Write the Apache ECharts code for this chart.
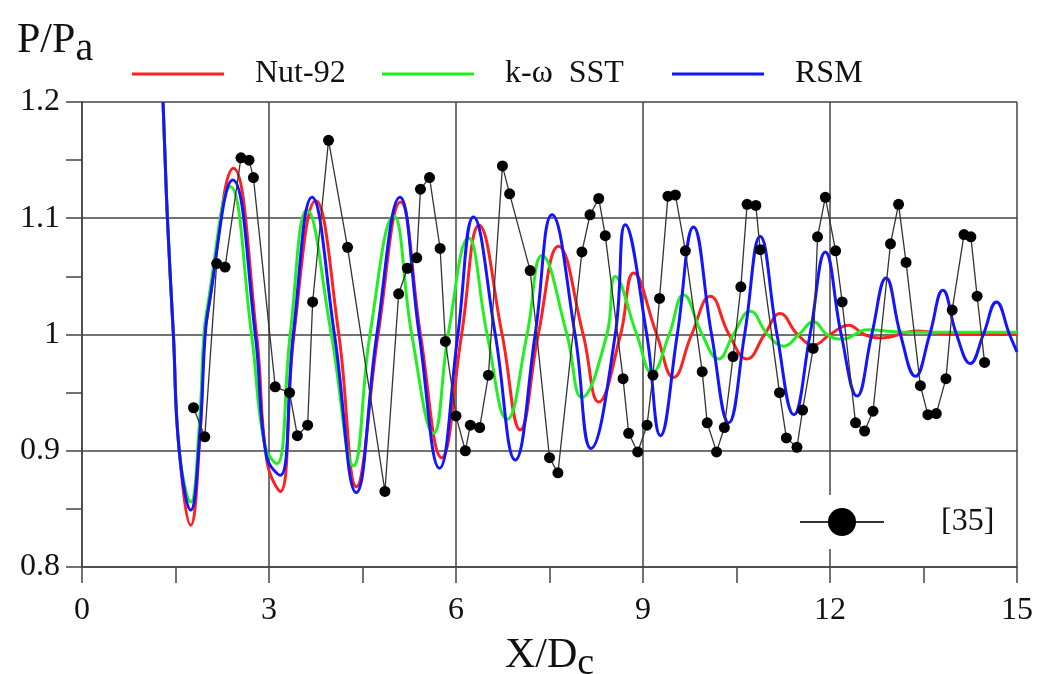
<!DOCTYPE html>
<html><head><meta charset="utf-8">
<script src="https://cdn.jsdelivr.net/npm/echarts@6/dist/echarts.min.js"></script>
<style>html,body{margin:0;padding:0;background:#fff}#c{width:1040px;height:674px}</style>
</head><body><div id="c"></div>
<script>
// ---- data ----
const seriesNames = ['Nut-92', 'k-\u03c9  SST', 'RSM', '[35]'];

const nut92 = [
  [1.30,1.200],[1.37,1.100],[1.466,1.000],[1.56,0.900],[1.745,0.836],[1.89,0.910],[1.96,0.995],[2.02,1.020],
  [2.43,1.143],[2.80,1.000],[2.97,0.890],[3.18,0.865],[3.40,1.000],[3.75,1.115],[4.12,1.000],[4.40,0.869],
  [4.75,1.000],[5.11,1.114],[5.43,1.000],[5.77,0.894],[6.09,1.000],[6.37,1.094],[6.74,1.000],[7.03,0.918],
  [7.32,1.000],[7.645,1.076],[8.04,1.000],[8.29,0.942],[8.64,1.000],[8.85,1.053],[9.22,1.000],[9.49,0.963],
  [9.78,1.000],[10.08,1.033],[10.38,1.000],[10.67,0.979],[10.95,1.000],[11.20,1.018],[11.48,1.000],[11.74,0.991],
  [12.00,1.000],[12.30,1.008],[12.55,1.000],[12.81,0.997],[13.40,1.003],[14.00,1.000],[15.00,1.000]
];
const sst = [
  [1.30,1.200],[1.37,1.100],[1.466,1.000],[1.56,0.900],[1.745,0.856],[1.88,0.920],[1.95,0.995],[2.00,1.020],
  [2.38,1.127],[2.72,1.000],[2.93,0.905],[3.125,0.889],[3.34,1.000],[3.61,1.107],[4.00,1.000],[4.355,0.887],
  [4.62,1.000],[5.00,1.102],[5.29,1.000],[5.64,0.915],[5.875,1.000],[6.20,1.083],[6.50,1.000],[6.82,0.927],
  [7.14,1.000],[7.38,1.068],[7.78,1.000],[8.02,0.946],[8.42,1.000],[8.555,1.050],[8.90,1.000],[9.145,0.967],
  [9.42,1.000],[9.65,1.034],[9.95,1.000],[10.21,0.979],[10.45,1.000],[10.72,1.020],[11.00,1.000],[11.26,0.990],
  [11.50,1.000],[11.74,1.011],[11.95,1.000],[12.20,0.996],[12.60,1.004],[13.20,1.002],[15.00,1.002]
];
const rsm = [
  [1.30,1.200],[1.37,1.100],[1.466,1.000],[1.56,0.900],[1.745,0.849],[1.89,0.915],[1.97,0.995],[2.02,1.020],
  [2.42,1.133],[2.78,1.000],[2.96,0.895],[3.18,0.879],[3.39,1.000],[3.69,1.118],[4.05,1.000],[4.40,0.864],
  [4.73,1.000],[5.10,1.118],[5.41,1.000],[5.735,0.885],[6.03,1.000],[6.28,1.101],[6.63,1.000],[6.95,0.892],
  [7.27,1.000],[7.54,1.103],[7.91,1.000],[8.165,0.902],[8.555,1.000],[8.715,1.0945],[9.06,1.000],[9.28,0.913],
  [9.55,1.000],[9.81,1.0925],[10.10,1.000],[10.375,0.924],[10.63,1.000],[10.88,1.0845],[11.15,1.000],[11.42,0.931],
  [11.68,1.000],[11.925,1.071],[12.18,1.000],[12.435,0.947],[12.67,1.000],[12.90,1.0486],[13.13,1.000],[13.37,0.964],
  [13.60,1.000],[13.81,1.038],[14.03,1.000],[14.25,0.975],[14.46,1.000],[14.67,1.028],[14.88,1.000],[15.00,0.985]
];
const expX = [1.79,1.97,2.16,2.295,2.55,2.68,2.75,3.10,3.33,3.455,3.62,3.70,3.955,4.26,4.86,5.08,5.22,5.37,5.43,5.575,
  5.745,5.83,6.00,6.15,6.23,6.38,6.52,6.745,6.86,7.19,7.50,7.635,8.02,8.15,8.29,8.395,8.68,8.77,8.915,9.065,
  9.16,9.265,9.40,9.52,9.68,9.95,10.03,10.18,10.305,10.445,10.57,10.67,10.81,10.88,11.19,11.30,11.47,11.56,11.73,11.80,
  11.925,12.09,12.195,12.41,12.555,12.69,12.97,13.10,13.22,13.45,13.57,13.705,13.86,13.96,14.15,14.26,14.36,14.48];
const expY = [0.937,0.912,1.061,1.058,1.152,1.150,1.135,0.955,0.950,0.913,0.922,1.028,1.167,1.075,0.865,1.035,1.057,1.066,1.125,1.135,
  1.074,0.994,0.930,0.900,0.922,0.920,0.965,1.145,1.121,1.055,0.894,0.881,1.071,1.103,1.117,1.085,0.962,0.915,0.899,0.922,
  0.965,1.031,1.119,1.120,1.072,0.968,0.924,0.899,0.920,0.981,1.041,1.112,1.111,1.073,0.950,0.911,0.903,0.935,0.988,1.084,
  1.118,1.072,1.028,0.924,0.917,0.934,1.078,1.112,1.062,0.956,0.931,0.932,0.962,1.021,1.086,1.084,1.033,0.976];
const xTicks = {min: 0, max: 15, step: 3};
const yTicks = {min: 0.8, max: 1.2, step: 0.1};

// ---- chart ----
const FONT = '"Liberation Serif", "Times New Roman", serif';
const AX = '#444';
const chart = echarts.init(document.getElementById('c'), null, {renderer: 'canvas'});
const lineSeries = (name, data, color) => ({
  name, type: 'line', data, smooth: 0.45, symbol: 'none', color,
  lineStyle: {color, width: 3}, animation: false
});
const legendBase = (name, left) => ({
  data: [name], left, top: 58, padding: 0, itemWidth: 92, itemHeight: 3, icon: 'rect',
  textStyle: {fontFamily: FONT, fontSize: 32, color: '#111', padding: [0, 0, 0, 26]}
});
chart.setOption({
  backgroundColor: '#fff',
  animation: false,
  title: {
    text: '{m|P/P}{s|a}', left: 12, top: 8,
    textStyle: {fontWeight: 'normal', rich: {
      m: {fontFamily: FONT, fontSize: 42, fontWeight: 'normal', color: '#111'},
      s: {fontFamily: FONT, fontSize: 40, fontWeight: 'normal', color: '#111', padding: [16, 0, 0, 0]}
    }}
  },
  legend: [
    legendBase(seriesNames[0], 132),
    legendBase(seriesNames[1], 382),
    legendBase(seriesNames[2], 672),
    {
      data: [seriesNames[3]], left: 797, top: 495, padding: [11, 18, 11, 2],
      backgroundColor: '#fff', itemWidth: 84, itemHeight: 35,
      lineStyle: {width: 2, color: '#333'},
      textStyle: {fontFamily: FONT, fontSize: 32, color: '#111', padding: [0, 0, 0, 52]}
    }
  ],
  grid: {left: 82, right: 23, top: 102, bottom: 107, containLabel: false, outerBoundsMode: 'none'},
  xAxis: {
    type: 'value', min: xTicks.min, max: xTicks.max, interval: xTicks.step,
    name: '{m|X/D}{s|c}', nameLocation: 'middle', nameGap: 62,
    nameTextStyle: {rich: {
      m: {fontFamily: FONT, fontSize: 42, color: '#111'},
      s: {fontFamily: FONT, fontSize: 38, color: '#111', padding: [16, 0, 0, 0]}
    }},
    axisLine: {show: true, onZero: false, lineStyle: {color: AX, width: 1.5}},
    axisTick: {show: true, inside: false, length: 16, lineStyle: {color: AX, width: 1.5}},
    minorTick: {show: true, splitNumber: 2, length: 16, lineStyle: {color: AX, width: 1.5}},
    splitLine: {show: true, lineStyle: {color: AX, width: 1.5}},
    minorSplitLine: {show: false},
    axisLabel: {fontFamily: FONT, fontSize: 32, color: '#111', margin: 28}
  },
  yAxis: {
    type: 'value', min: yTicks.min, max: yTicks.max, interval: yTicks.step,
    axisLine: {show: true, onZero: false, lineStyle: {color: AX, width: 1.5}},
    axisTick: {show: true, inside: false, length: 16, lineStyle: {color: AX, width: 1.5}},
    minorTick: {show: true, splitNumber: 2, length: 16, lineStyle: {color: AX, width: 1.5}},
    splitLine: {show: true, lineStyle: {color: AX, width: 1.5}},
    axisLabel: {fontFamily: FONT, fontSize: 32, color: '#111', margin: 22,
      formatter: v => String(Math.round(v * 10) / 10)}
  },
  series: [
    lineSeries(seriesNames[0], nut92, '#ff2020'),
    lineSeries(seriesNames[1], sst, '#22ee22'),
    lineSeries(seriesNames[2], rsm, '#1414ff'),
    {
      name: seriesNames[3], type: 'line', data: expX.map((x, i) => [x, expY[i]]),
      symbol: 'circle', symbolSize: 11, color: '#000',
      itemStyle: {color: '#000'}, lineStyle: {color: '#333', width: 1.3}, animation: false
    }
  ]
});
</script></body></html>
